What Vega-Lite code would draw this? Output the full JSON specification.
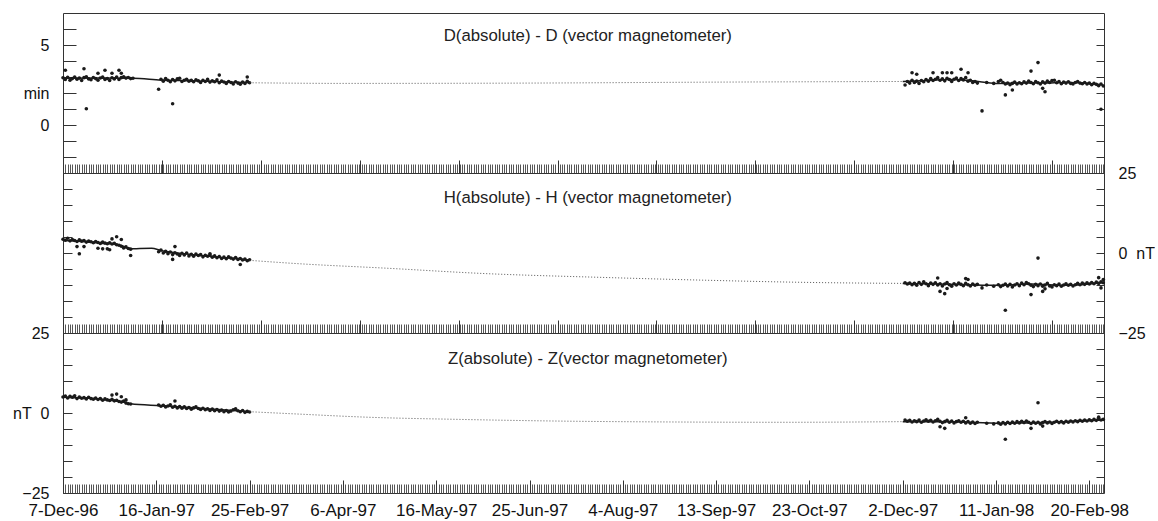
{
"$schema":"https://vega.github.io/schema/vega-lite/v6.json",
"padding":{"left":12,"top":12,"right":0,"bottom":4},
"background":"white",
"config":{"view":{"stroke":"#333","strokeWidth":1},"axis":{"labelFont":"Liberation Sans","labelFontSize":16,"labelColor":"#111","labelOverlap":false,"labelFlush":false,"labelBound":false,"domain":false,"grid":false,"tickColor":"#333","title":null}},
"datasets":{
"Dp":[{"t":"1996-12-07","v":2.95},{"t":"1996-12-08","v":2.85},{"t":"1996-12-09","v":2.98},{"t":"1996-12-10","v":2.8},{"t":"1996-12-11","v":2.9},{"t":"1996-12-12","v":3.0},{"t":"1996-12-13","v":2.86},{"t":"1996-12-14","v":2.93},{"t":"1996-12-15","v":2.78},{"t":"1996-12-16","v":2.96},{"t":"1996-12-17","v":3.02},{"t":"1996-12-18","v":2.88},{"t":"1996-12-19","v":2.83},{"t":"1996-12-20","v":2.97},{"t":"1996-12-21","v":2.9},{"t":"1996-12-22","v":2.8},{"t":"1996-12-23","v":2.94},{"t":"1996-12-24","v":2.99},{"t":"1996-12-25","v":2.85},{"t":"1996-12-26","v":2.91},{"t":"1996-12-27","v":2.78},{"t":"1996-12-28","v":2.95},{"t":"1996-12-29","v":2.88},{"t":"1996-12-30","v":3.0},{"t":"1996-12-31","v":2.84},{"t":"1997-01-01","v":2.96},{"t":"1997-01-02","v":3.02},{"t":"1997-01-03","v":2.93},{"t":"1997-01-04","v":2.97},{"t":"1997-01-05","v":2.9},{"t":"1997-01-06","v":2.92},
{"t":"1997-01-18","v":2.86},{"t":"1997-01-19","v":2.74},{"t":"1997-01-20","v":2.9},{"t":"1997-01-21","v":2.8},{"t":"1997-01-22","v":2.7},{"t":"1997-01-23","v":2.84},{"t":"1997-01-24","v":2.76},{"t":"1997-01-25","v":2.88},{"t":"1997-01-26","v":2.92},{"t":"1997-01-27","v":2.72},{"t":"1997-01-28","v":2.8},{"t":"1997-01-29","v":2.86},{"t":"1997-01-30","v":2.74},{"t":"1997-01-31","v":2.79},
{"t":"1997-02-01","v":2.7},{"t":"1997-02-02","v":2.83},{"t":"1997-02-03","v":2.76},{"t":"1997-02-04","v":2.66},{"t":"1997-02-05","v":2.8},{"t":"1997-02-06","v":2.72},{"t":"1997-02-07","v":2.85},{"t":"1997-02-08","v":2.68},{"t":"1997-02-09","v":2.76},{"t":"1997-02-10","v":2.7},{"t":"1997-02-11","v":2.82},{"t":"1997-02-12","v":2.64},{"t":"1997-02-13","v":2.74},{"t":"1997-02-14","v":2.69},{"t":"1997-02-15","v":2.6},{"t":"1997-02-16","v":2.72},{"t":"1997-02-17","v":2.66},{"t":"1997-02-18","v":2.56},{"t":"1997-02-19","v":2.7},{"t":"1997-02-20","v":2.62},{"t":"1997-02-21","v":2.55},{"t":"1997-02-22","v":2.68},{"t":"1997-02-23","v":2.6},{"t":"1997-02-24","v":2.73},{"t":"1997-02-25","v":2.64},
{"t":"1997-12-03","v":2.5},{"t":"1997-12-04","v":2.72},{"t":"1997-12-05","v":2.62},{"t":"1997-12-06","v":2.8},{"t":"1997-12-07","v":2.66},{"t":"1997-12-08","v":2.74},{"t":"1997-12-09","v":2.6},{"t":"1997-12-10","v":2.78},{"t":"1997-12-11","v":2.7},{"t":"1997-12-12","v":2.84},{"t":"1997-12-13","v":2.74},{"t":"1997-12-14","v":2.9},{"t":"1997-12-15","v":2.78},{"t":"1997-12-16","v":2.86},{"t":"1997-12-17","v":2.96},{"t":"1997-12-18","v":2.8},{"t":"1997-12-19","v":2.88},{"t":"1997-12-20","v":2.76},{"t":"1997-12-21","v":2.92},{"t":"1997-12-22","v":2.84},{"t":"1997-12-23","v":2.72},{"t":"1997-12-24","v":2.86},{"t":"1997-12-25","v":2.94},{"t":"1997-12-26","v":2.78},{"t":"1997-12-27","v":2.9},{"t":"1997-12-28","v":2.82},{"t":"1997-12-29","v":2.96},{"t":"1997-12-30","v":2.74},{"t":"1997-12-31","v":2.8},
{"t":"1998-01-01","v":2.66},{"t":"1998-01-02","v":2.72},{"t":"1998-01-03","v":2.62},{"t":"1998-01-07","v":2.66},{"t":"1998-01-10","v":2.6},
{"t":"1998-01-12","v":2.72},{"t":"1998-01-13","v":2.8},{"t":"1998-01-14","v":2.66},{"t":"1998-01-15","v":2.56},{"t":"1998-01-16","v":2.62},{"t":"1998-01-17","v":2.52},{"t":"1998-01-18","v":2.6},{"t":"1998-01-19","v":2.68},{"t":"1998-01-20","v":2.56},{"t":"1998-01-21","v":2.64},{"t":"1998-01-22","v":2.58},{"t":"1998-01-23","v":2.7},{"t":"1998-01-24","v":2.62},{"t":"1998-01-25","v":2.74},{"t":"1998-01-26","v":2.66},{"t":"1998-01-27","v":2.58},{"t":"1998-01-28","v":2.72},{"t":"1998-01-29","v":2.64},{"t":"1998-01-30","v":2.56},{"t":"1998-01-31","v":2.7},
{"t":"1998-02-01","v":2.62},{"t":"1998-02-02","v":2.74},{"t":"1998-02-03","v":2.66},{"t":"1998-02-04","v":2.78},{"t":"1998-02-05","v":2.8},{"t":"1998-02-06","v":2.64},{"t":"1998-02-07","v":2.72},{"t":"1998-02-08","v":2.58},{"t":"1998-02-09","v":2.68},{"t":"1998-02-10","v":2.62},{"t":"1998-02-11","v":2.7},{"t":"1998-02-12","v":2.6},{"t":"1998-02-13","v":2.56},{"t":"1998-02-14","v":2.66},{"t":"1998-02-15","v":2.72},{"t":"1998-02-16","v":2.62},{"t":"1998-02-17","v":2.58},{"t":"1998-02-18","v":2.66},{"t":"1998-02-19","v":2.56},{"t":"1998-02-20","v":2.62},{"t":"1998-02-21","v":2.52},{"t":"1998-02-22","v":2.6},{"t":"1998-02-23","v":2.54},{"t":"1998-02-24","v":2.46},{"t":"1998-02-25","v":2.56},{"t":"1998-02-26","v":2.44},
{"t":"1996-12-08","v":3.42},{"t":"1996-12-16","v":3.52},{"t":"1996-12-17","v":1.02},{"t":"1996-12-22","v":3.23},{"t":"1996-12-25","v":3.42},{"t":"1996-12-28","v":3.23},{"t":"1996-12-31","v":3.42},{"t":"1997-01-01","v":3.23},{"t":"1997-01-17","v":2.23},{"t":"1997-01-23","v":1.33},{"t":"1997-02-12","v":3.12},{"t":"1997-02-24","v":3.0},
{"t":"1997-12-06","v":3.27},{"t":"1997-12-08","v":3.17},{"t":"1997-12-15","v":3.27},{"t":"1997-12-19","v":3.27},{"t":"1997-12-21","v":3.27},{"t":"1997-12-23","v":3.27},{"t":"1997-12-27","v":3.48},{"t":"1997-12-30","v":3.27},{"t":"1998-01-05","v":0.88},{"t":"1998-01-15","v":1.88},{"t":"1998-01-18","v":2.19},{"t":"1998-01-26","v":3.37},{"t":"1998-01-29","v":3.9},{"t":"1998-01-31","v":2.29},{"t":"1998-02-01","v":2.08},{"t":"1998-02-25","v":0.98}],
"Ds":[{"t":"1996-12-07","v":2.92,"g":"a"},{"t":"1996-12-22","v":2.93,"g":"a"},{"t":"1997-01-06","v":2.92,"g":"a"},{"t":"1997-01-18","v":2.81,"g":"a"},{"t":"1997-01-31","v":2.76,"g":"a"},{"t":"1997-02-10","v":2.72,"g":"a"},{"t":"1997-02-25","v":2.64,"g":"a"},
{"t":"1997-12-02","v":2.72,"g":"c"},{"t":"1997-12-12","v":2.78,"g":"c"},{"t":"1997-12-22","v":2.85,"g":"c"},{"t":"1998-01-01","v":2.76,"g":"c"},{"t":"1998-01-11","v":2.6,"g":"c"},{"t":"1998-01-21","v":2.62,"g":"c"},{"t":"1998-01-31","v":2.62,"g":"c"},{"t":"1998-02-10","v":2.66,"g":"c"},{"t":"1998-02-20","v":2.6,"g":"c"},{"t":"1998-02-26","v":2.5,"g":"c"}],
"Dd":[{"t":"1997-02-25","v":2.64},{"t":"1997-04-06","v":2.6},{"t":"1997-06-25","v":2.62},{"t":"1997-09-13","v":2.68},{"t":"1997-12-02","v":2.72}],
"Hp":[{"t":"1996-12-07","v":4.3},{"t":"1996-12-08","v":4.0},{"t":"1996-12-09","v":4.6},{"t":"1996-12-10","v":3.8},{"t":"1996-12-11","v":4.2},{"t":"1996-12-12","v":3.9},{"t":"1996-12-13","v":3.6},{"t":"1996-12-14","v":4.1},{"t":"1996-12-15","v":3.7},{"t":"1996-12-16","v":3.9},{"t":"1996-12-17","v":3.4},{"t":"1996-12-18","v":3.7},{"t":"1996-12-19","v":3.5},{"t":"1996-12-20","v":3.2},{"t":"1996-12-21","v":3.6},{"t":"1996-12-22","v":3.3},{"t":"1996-12-23","v":3.0},{"t":"1996-12-24","v":3.4},{"t":"1996-12-25","v":3.1},{"t":"1996-12-26","v":2.9},{"t":"1996-12-27","v":3.2},{"t":"1996-12-28","v":2.8},{"t":"1996-12-29","v":3.0},{"t":"1996-12-30","v":2.6},{"t":"1996-12-31","v":2.4},{"t":"1997-01-01","v":2.1},{"t":"1997-01-02","v":1.6},{"t":"1997-01-03","v":1.9},{"t":"1997-01-04","v":1.4},{"t":"1997-01-05","v":1.2},
{"t":"1997-01-17","v":0.4},{"t":"1997-01-18","v":0.9},{"t":"1997-01-19","v":0.0},{"t":"1997-01-20","v":0.5},{"t":"1997-01-21","v":-0.2},{"t":"1997-01-22","v":0.3},{"t":"1997-01-23","v":-0.5},{"t":"1997-01-24","v":0.1},{"t":"1997-01-25","v":-0.3},{"t":"1997-01-26","v":-0.8},{"t":"1997-01-27","v":-0.1},{"t":"1997-01-28","v":-0.6},{"t":"1997-01-29","v":0.0},{"t":"1997-01-30","v":-0.9},{"t":"1997-01-31","v":-0.4},
{"t":"1997-02-01","v":-1.0},{"t":"1997-02-02","v":-0.3},{"t":"1997-02-03","v":-0.8},{"t":"1997-02-04","v":-0.5},{"t":"1997-02-05","v":-1.2},{"t":"1997-02-06","v":-0.7},{"t":"1997-02-07","v":-1.0},{"t":"1997-02-08","v":-0.6},{"t":"1997-02-09","v":-1.3},{"t":"1997-02-10","v":-0.9},{"t":"1997-02-11","v":-1.5},{"t":"1997-02-12","v":-1.1},{"t":"1997-02-13","v":-1.7},{"t":"1997-02-14","v":-1.3},{"t":"1997-02-15","v":-1.8},{"t":"1997-02-16","v":-1.2},{"t":"1997-02-17","v":-1.6},{"t":"1997-02-18","v":-1.9},{"t":"1997-02-19","v":-1.4},{"t":"1997-02-20","v":-2.0},{"t":"1997-02-21","v":-1.7},{"t":"1997-02-22","v":-2.2},{"t":"1997-02-23","v":-1.9},{"t":"1997-02-24","v":-2.4},{"t":"1997-02-25","v":-2.1},
{"t":"1997-12-03","v":-9.3},{"t":"1997-12-04","v":-9.7},{"t":"1997-12-05","v":-9.4},{"t":"1997-12-06","v":-9.9},{"t":"1997-12-07","v":-9.5},{"t":"1997-12-08","v":-10.1},{"t":"1997-12-09","v":-9.2},{"t":"1997-12-10","v":-9.8},{"t":"1997-12-11","v":-9.0},{"t":"1997-12-12","v":-9.6},{"t":"1997-12-13","v":-10.2},{"t":"1997-12-14","v":-9.4},{"t":"1997-12-15","v":-9.8},{"t":"1997-12-16","v":-9.3},{"t":"1997-12-17","v":-10.0},{"t":"1997-12-18","v":-9.6},{"t":"1997-12-19","v":-10.3},{"t":"1997-12-20","v":-9.7},{"t":"1997-12-21","v":-9.2},{"t":"1997-12-22","v":-9.9},{"t":"1997-12-23","v":-10.4},{"t":"1997-12-24","v":-9.6},{"t":"1997-12-25","v":-10.0},{"t":"1997-12-26","v":-9.4},{"t":"1997-12-27","v":-9.8},{"t":"1997-12-28","v":-10.2},{"t":"1997-12-29","v":-9.5},{"t":"1997-12-30","v":-9.9},{"t":"1997-12-31","v":-10.3},
{"t":"1998-01-01","v":-9.7},{"t":"1998-01-02","v":-10.1},{"t":"1998-01-03","v":-9.8},{"t":"1998-01-07","v":-10.0},{"t":"1998-01-10","v":-10.4},
{"t":"1998-01-12","v":-9.9},{"t":"1998-01-13","v":-10.5},{"t":"1998-01-14","v":-10.1},{"t":"1998-01-15","v":-9.7},{"t":"1998-01-16","v":-10.3},{"t":"1998-01-17","v":-9.8},{"t":"1998-01-18","v":-10.6},{"t":"1998-01-19","v":-10.0},{"t":"1998-01-20","v":-9.6},{"t":"1998-01-21","v":-10.2},{"t":"1998-01-22","v":-9.4},{"t":"1998-01-23","v":-9.9},{"t":"1998-01-24","v":-9.2},{"t":"1998-01-25","v":-9.6},{"t":"1998-01-26","v":-10.1},{"t":"1998-01-27","v":-10.5},{"t":"1998-01-28","v":-9.8},{"t":"1998-01-29","v":-10.2},{"t":"1998-01-30","v":-9.7},{"t":"1998-01-31","v":-10.4},
{"t":"1998-02-01","v":-10.0},{"t":"1998-02-02","v":-9.5},{"t":"1998-02-03","v":-10.3},{"t":"1998-02-04","v":-10.6},{"t":"1998-02-05","v":-9.9},{"t":"1998-02-06","v":-10.2},{"t":"1998-02-07","v":-9.7},{"t":"1998-02-08","v":-10.4},{"t":"1998-02-09","v":-10.0},{"t":"1998-02-10","v":-9.6},{"t":"1998-02-11","v":-10.1},{"t":"1998-02-12","v":-9.8},{"t":"1998-02-13","v":-10.3},{"t":"1998-02-14","v":-9.9},{"t":"1998-02-15","v":-9.5},{"t":"1998-02-16","v":-9.9},{"t":"1998-02-17","v":-9.4},{"t":"1998-02-18","v":-9.8},{"t":"1998-02-19","v":-9.3},{"t":"1998-02-20","v":-9.7},{"t":"1998-02-21","v":-9.2},{"t":"1998-02-22","v":-9.6},{"t":"1998-02-23","v":-9.1},{"t":"1998-02-24","v":-9.5},{"t":"1998-02-25","v":-9.0},{"t":"1998-02-26","v":-9.3},
{"t":"1996-12-13","v":2.0},{"t":"1996-12-14","v":-0.25},{"t":"1996-12-16","v":2.0},{"t":"1996-12-22","v":1.5},{"t":"1996-12-24","v":1.3},{"t":"1996-12-26","v":1.3},{"t":"1996-12-27","v":1.0},{"t":"1996-12-28","v":4.4},{"t":"1996-12-30","v":5.1},{"t":"1997-01-01","v":4.2},{"t":"1997-01-05","v":-0.8},{"t":"1997-01-23","v":-2.0},{"t":"1997-01-24","v":2.0},{"t":"1997-02-08","v":-0.25},{"t":"1997-02-21","v":-3.6},
{"t":"1997-12-17","v":-7.8},{"t":"1997-12-18","v":-12.0},{"t":"1997-12-20","v":-12.7},{"t":"1997-12-21","v":-11.1},{"t":"1997-12-29","v":-8.0},{"t":"1997-12-30","v":-8.3},{"t":"1998-01-05","v":-10.9},{"t":"1998-01-15","v":-17.9},{"t":"1998-01-26","v":-13.0},{"t":"1998-01-29","v":-1.6},{"t":"1998-01-31","v":-12.0},{"t":"1998-02-01","v":-11.2},{"t":"1998-02-24","v":-7.7},{"t":"1998-02-25","v":-10.9},{"t":"1998-02-26","v":-8.3}],
"Hs":[{"t":"1996-12-07","v":3.9,"g":"a"},{"t":"1996-12-15","v":3.6,"g":"a"},{"t":"1996-12-23","v":3.05,"g":"a"},{"t":"1996-12-29","v":2.8,"g":"a"},{"t":"1997-01-01","v":2.33,"g":"a"},{"t":"1997-01-05","v":1.3,"g":"a"},{"t":"1997-01-09","v":1.4,"g":"a"},{"t":"1997-01-14","v":1.45,"g":"a"},{"t":"1997-01-18","v":0.8,"g":"a"},{"t":"1997-01-26","v":-0.1,"g":"a"},{"t":"1997-02-04","v":-0.8,"g":"a"},{"t":"1997-02-15","v":-1.5,"g":"a"},{"t":"1997-02-25","v":-2.3,"g":"a"},
{"t":"1997-12-02","v":-9.5,"g":"c"},{"t":"1997-12-22","v":-9.8,"g":"c"},{"t":"1998-01-11","v":-10.1,"g":"c"},{"t":"1998-01-26","v":-9.7,"g":"c"},{"t":"1998-02-10","v":-10.1,"g":"c"},{"t":"1998-02-26","v":-9.3,"g":"c"}],
"Hd":[{"t":"1997-02-25","v":-2.3},{"t":"1997-03-17","v":-3.3},{"t":"1997-04-26","v":-4.8},{"t":"1997-06-05","v":-6.4},{"t":"1997-07-25","v":-7.6},{"t":"1997-09-08","v":-8.5},{"t":"1997-10-23","v":-9.2},{"t":"1997-12-02","v":-9.5}],
"Zp":[{"t":"1996-12-07","v":5.0},{"t":"1996-12-08","v":5.3},{"t":"1996-12-09","v":4.7},{"t":"1996-12-10","v":5.2},{"t":"1996-12-11","v":4.9},{"t":"1996-12-12","v":5.4},{"t":"1996-12-13","v":4.5},{"t":"1996-12-14","v":5.0},{"t":"1996-12-15","v":4.6},{"t":"1996-12-16","v":4.8},{"t":"1996-12-17","v":4.4},{"t":"1996-12-18","v":4.9},{"t":"1996-12-19","v":4.5},{"t":"1996-12-20","v":4.3},{"t":"1996-12-21","v":4.7},{"t":"1996-12-22","v":4.2},{"t":"1996-12-23","v":4.5},{"t":"1996-12-24","v":4.0},{"t":"1996-12-25","v":4.4},{"t":"1996-12-26","v":4.1},{"t":"1996-12-27","v":3.9},{"t":"1996-12-28","v":4.3},{"t":"1996-12-29","v":3.8},{"t":"1996-12-30","v":4.0},{"t":"1996-12-31","v":3.6},{"t":"1997-01-01","v":3.4},{"t":"1997-01-02","v":3.7},{"t":"1997-01-03","v":3.1},{"t":"1997-01-04","v":2.9},{"t":"1997-01-05","v":2.8},
{"t":"1997-01-17","v":2.5},{"t":"1997-01-18","v":2.1},{"t":"1997-01-19","v":2.4},{"t":"1997-01-20","v":1.9},{"t":"1997-01-21","v":2.2},{"t":"1997-01-22","v":2.6},{"t":"1997-01-23","v":1.8},{"t":"1997-01-24","v":2.1},{"t":"1997-01-25","v":1.6},{"t":"1997-01-26","v":2.0},{"t":"1997-01-27","v":1.5},{"t":"1997-01-28","v":1.9},{"t":"1997-01-29","v":1.4},{"t":"1997-01-30","v":1.7},{"t":"1997-01-31","v":1.2},
{"t":"1997-02-01","v":1.6},{"t":"1997-02-02","v":1.9},{"t":"1997-02-03","v":1.4},{"t":"1997-02-04","v":1.1},{"t":"1997-02-05","v":1.5},{"t":"1997-02-06","v":1.0},{"t":"1997-02-07","v":1.3},{"t":"1997-02-08","v":0.8},{"t":"1997-02-09","v":1.2},{"t":"1997-02-10","v":0.7},{"t":"1997-02-11","v":1.1},{"t":"1997-02-12","v":0.6},{"t":"1997-02-13","v":0.9},{"t":"1997-02-14","v":0.4},{"t":"1997-02-15","v":0.8},{"t":"1997-02-16","v":0.3},{"t":"1997-02-17","v":0.6},{"t":"1997-02-18","v":1.0},{"t":"1997-02-19","v":1.3},{"t":"1997-02-20","v":0.7},{"t":"1997-02-21","v":0.4},{"t":"1997-02-22","v":0.8},{"t":"1997-02-23","v":0.2},{"t":"1997-02-24","v":0.5},{"t":"1997-02-25","v":0.3},
{"t":"1997-12-03","v":-2.2},{"t":"1997-12-04","v":-2.6},{"t":"1997-12-05","v":-2.3},{"t":"1997-12-06","v":-2.8},{"t":"1997-12-07","v":-2.4},{"t":"1997-12-08","v":-2.7},{"t":"1997-12-09","v":-2.2},{"t":"1997-12-10","v":-2.9},{"t":"1997-12-11","v":-2.5},{"t":"1997-12-12","v":-2.1},{"t":"1997-12-13","v":-2.6},{"t":"1997-12-14","v":-2.3},{"t":"1997-12-15","v":-2.8},{"t":"1997-12-16","v":-2.4},{"t":"1997-12-17","v":-2.0},{"t":"1997-12-18","v":-2.6},{"t":"1997-12-19","v":-3.0},{"t":"1997-12-20","v":-2.7},{"t":"1997-12-21","v":-2.3},{"t":"1997-12-22","v":-2.9},{"t":"1997-12-23","v":-2.5},{"t":"1997-12-24","v":-3.1},{"t":"1997-12-25","v":-2.7},{"t":"1997-12-26","v":-2.4},{"t":"1997-12-27","v":-2.9},{"t":"1997-12-28","v":-2.6},{"t":"1997-12-29","v":-3.1},{"t":"1997-12-30","v":-2.7},{"t":"1997-12-31","v":-3.2},
{"t":"1998-01-01","v":-2.8},{"t":"1998-01-02","v":-3.3},{"t":"1998-01-03","v":-2.9},{"t":"1998-01-07","v":-3.2},{"t":"1998-01-10","v":-3.4},
{"t":"1998-01-12","v":-3.1},{"t":"1998-01-13","v":-3.5},{"t":"1998-01-14","v":-3.0},{"t":"1998-01-15","v":-3.4},{"t":"1998-01-16","v":-2.9},{"t":"1998-01-17","v":-3.3},{"t":"1998-01-18","v":-2.8},{"t":"1998-01-19","v":-3.2},{"t":"1998-01-20","v":-2.7},{"t":"1998-01-21","v":-3.1},{"t":"1998-01-22","v":-2.6},{"t":"1998-01-23","v":-3.0},{"t":"1998-01-24","v":-2.5},{"t":"1998-01-25","v":-2.9},{"t":"1998-01-26","v":-3.3},{"t":"1998-01-27","v":-2.8},{"t":"1998-01-28","v":-3.2},{"t":"1998-01-29","v":-2.9},{"t":"1998-01-30","v":-3.4},{"t":"1998-01-31","v":-3.0},
{"t":"1998-02-01","v":-2.7},{"t":"1998-02-02","v":-3.1},{"t":"1998-02-03","v":-2.8},{"t":"1998-02-04","v":-3.3},{"t":"1998-02-05","v":-2.9},{"t":"1998-02-06","v":-2.6},{"t":"1998-02-07","v":-3.0},{"t":"1998-02-08","v":-2.7},{"t":"1998-02-09","v":-3.1},{"t":"1998-02-10","v":-2.6},{"t":"1998-02-11","v":-2.9},{"t":"1998-02-12","v":-2.5},{"t":"1998-02-13","v":-2.8},{"t":"1998-02-14","v":-2.4},{"t":"1998-02-15","v":-2.7},{"t":"1998-02-16","v":-2.3},{"t":"1998-02-17","v":-2.6},{"t":"1998-02-18","v":-2.2},{"t":"1998-02-19","v":-2.5},{"t":"1998-02-20","v":-2.1},{"t":"1998-02-21","v":-2.4},{"t":"1998-02-22","v":-2.0},{"t":"1998-02-23","v":-2.3},{"t":"1998-02-24","v":-1.9},{"t":"1998-02-25","v":-2.2},{"t":"1998-02-26","v":-2.0},
{"t":"1996-12-28","v":5.6},{"t":"1996-12-30","v":5.9},{"t":"1997-01-01","v":5.1},{"t":"1997-01-03","v":4.1},{"t":"1997-01-24","v":3.75},
{"t":"1997-12-18","v":-4.3},{"t":"1997-12-20","v":-4.8},{"t":"1997-12-29","v":-1.5},{"t":"1998-01-15","v":-8.2},{"t":"1998-01-26","v":-4.8},{"t":"1998-01-29","v":3.2},{"t":"1998-01-31","v":-4.1},{"t":"1998-02-24","v":-1.3}],
"Zs":[{"t":"1996-12-07","v":4.9,"g":"a"},{"t":"1996-12-23","v":4.3,"g":"a"},{"t":"1997-01-01","v":3.5,"g":"a"},{"t":"1997-01-05","v":2.9,"g":"a"},{"t":"1997-01-18","v":2.3,"g":"a"},{"t":"1997-02-04","v":1.5,"g":"a"},{"t":"1997-02-25","v":0.4,"g":"a"},
{"t":"1997-12-02","v":-2.7,"g":"c"},{"t":"1997-12-22","v":-2.7,"g":"c"},{"t":"1998-01-13","v":-3.2,"g":"c"},{"t":"1998-01-29","v":-3.0,"g":"c"},{"t":"1998-02-26","v":-2.2,"g":"c"}],
"Zd":[{"t":"1997-02-25","v":0.4},{"t":"1997-03-17","v":-0.3},{"t":"1997-04-16","v":-1.3},{"t":"1997-05-26","v":-2.0},{"t":"1997-07-05","v":-2.5},{"t":"1997-08-24","v":-2.8},{"t":"1997-10-13","v":-2.9},{"t":"1997-12-02","v":-2.7}]
},
"vconcat":[
{"width":1041,"height":160,
"layer":[
{"data":{"name":"Dp"},"mark":{"type":"circle","size":13,"color":"#1a1a1a","opacity":1},
"encoding":{"x":{"field":"t","type":"temporal","scale":{"type":"utc","domain":[{"year":1996,"month":12,"date":7,"utc":true},{"year":1998,"month":2,"date":26,"hours":7,"utc":true}]},"axis":{"orient":"bottom","tickCount":{"interval":"day","step":1},"labels":false,"tickSize":-9,"tickWidth":0.9,"tickColor":"#444","title":null}},
"y":{"field":"v","type":"quantitative","scale":{"domain":[-3,7],"nice":false,"zero":false},"axis":{"orient":"left","values":[-2,-1,0,1,2,3,4,5,6],"tickSize":-13,"labelPadding":27,"labelExpr":"datum.value==2?'min\u00a0':(datum.value==0||datum.value==5)?datum.label:''","title":null}}}},
{"data":{"name":"Dd"},"mark":{"type":"line","interpolate":"monotone","strokeDash":[1,2],"strokeWidth":1,"color":"#555"},
"encoding":{"x":{"field":"t","type":"temporal","axis":null},"y":{"field":"v","type":"quantitative","axis":null}}},
{"data":{"name":"Ds"},"mark":{"type":"line","interpolate":"monotone","strokeWidth":1.5,"color":"#1a1a1a"},
"encoding":{"x":{"field":"t","type":"temporal","axis":{"orient":"bottom","values":[{"year":1996,"month":12,"date":7,"utc":true},{"year":1997,"month":1,"date":18,"hours":10,"utc":true},{"year":1997,"month":3,"date":1,"hours":19,"utc":true},{"year":1997,"month":4,"date":13,"hours":5,"utc":true},{"year":1997,"month":5,"date":25,"hours":14,"utc":true},{"year":1997,"month":7,"date":7,"utc":true},{"year":1997,"month":8,"date":18,"hours":10,"utc":true},{"year":1997,"month":9,"date":29,"hours":19,"utc":true},{"year":1997,"month":11,"date":11,"hours":5,"utc":true},{"year":1997,"month":12,"date":23,"hours":14,"utc":true},{"year":1998,"month":2,"date":4,"utc":true}],"labels":false,"tickSize":-13,"title":null}},
"y":{"field":"v","type":"quantitative","axis":{"orient":"right","values":[-2,-1,0,1,2,3,4,5,6],"tickSize":-8,"labels":false,"title":null}},
"detail":{"field":"g"}}},
{"data":{"values":[{}]},"mark":{"type":"text","font":"Liberation Sans","fontSize":16.8,"color":"#222"},
"encoding":{"x":{"datum":{"year":1997,"month":7,"date":20,"utc":true},"type":"temporal","axis":null},"y":{"datum":5.56,"type":"quantitative","axis":null},"text":{"value":"D(absolute) - D (vector magnetometer)"}}}
],
"resolve":{"axis":{"x":"independent","y":"independent"}}},
{"width":1041,"height":160,
"layer":[
{"data":{"name":"Hp"},"mark":{"type":"circle","size":13,"color":"#1a1a1a","opacity":1},
"encoding":{"x":{"field":"t","type":"temporal","scale":{"type":"utc","domain":[{"year":1996,"month":12,"date":7,"utc":true},{"year":1998,"month":2,"date":26,"hours":7,"utc":true}]},"axis":{"orient":"bottom","tickCount":{"interval":"day","step":1},"labels":false,"tickSize":-9,"tickWidth":0.9,"tickColor":"#444","title":null}},
"y":{"field":"v","type":"quantitative","scale":{"domain":[-25,25],"nice":false,"zero":false},"axis":{"orient":"left","values":[-20,-15,-10,-5,0,5,10,15,20],"tickSize":-9,"labels":false,"title":null}}}},
{"data":{"name":"Hd"},"mark":{"type":"line","interpolate":"monotone","strokeDash":[1,2],"strokeWidth":1,"color":"#555"},
"encoding":{"x":{"field":"t","type":"temporal","axis":null},"y":{"field":"v","type":"quantitative","axis":null}}},
{"data":{"name":"Hs"},"mark":{"type":"line","interpolate":"monotone","strokeWidth":1.5,"color":"#1a1a1a"},
"encoding":{"x":{"field":"t","type":"temporal","axis":{"orient":"bottom","values":[{"year":1996,"month":12,"date":7,"utc":true},{"year":1997,"month":1,"date":18,"hours":10,"utc":true},{"year":1997,"month":3,"date":1,"hours":19,"utc":true},{"year":1997,"month":4,"date":13,"hours":5,"utc":true},{"year":1997,"month":5,"date":25,"hours":14,"utc":true},{"year":1997,"month":7,"date":7,"utc":true},{"year":1997,"month":8,"date":18,"hours":10,"utc":true},{"year":1997,"month":9,"date":29,"hours":19,"utc":true},{"year":1997,"month":11,"date":11,"hours":5,"utc":true},{"year":1997,"month":12,"date":23,"hours":14,"utc":true},{"year":1998,"month":2,"date":4,"utc":true}],"labels":false,"tickSize":-13,"title":null}},
"y":{"field":"v","type":"quantitative","axis":{"orient":"right","values":[-25,-20,-15,-10,-5,0,5,10,15,20,25],"tickSize":-8,"labelPadding":22,"labelExpr":"datum.value==0?'0\u00a0\u00a0nT':(datum.value==25||datum.value==-25)?datum.label:''","title":null}},
"detail":{"field":"g"}}},
{"data":{"values":[{}]},"mark":{"type":"text","font":"Liberation Sans","fontSize":16.8,"color":"#222"},
"encoding":{"x":{"datum":{"year":1997,"month":7,"date":20,"utc":true},"type":"temporal","axis":null},"y":{"datum":17.2,"type":"quantitative","axis":null},"text":{"value":"H(absolute) - H (vector magnetometer)"}}}
],
"resolve":{"axis":{"x":"independent","y":"independent"}}},
{"width":1041,"height":160,
"layer":[
{"data":{"name":"Zp"},"mark":{"type":"circle","size":13,"color":"#1a1a1a","opacity":1},
"encoding":{"x":{"field":"t","type":"temporal","scale":{"type":"utc","domain":[{"year":1996,"month":12,"date":7,"utc":true},{"year":1998,"month":2,"date":26,"hours":7,"utc":true}]},"axis":{"orient":"bottom","tickCount":{"interval":"day","step":1},"labels":false,"tickSize":-9,"tickWidth":0.9,"tickColor":"#444","title":null}},
"y":{"field":"v","type":"quantitative","scale":{"domain":[-25,25],"nice":false,"zero":false},"axis":{"orient":"left","values":[-25,-20,-15,-10,-5,0,5,10,15,20,25],"tickSize":-9,"labelPadding":23,"labelExpr":"datum.value==0?'nT\u00a0\u00a00':(datum.value==25||datum.value==-25)?datum.label:''","title":null}}}},
{"data":{"name":"Zd"},"mark":{"type":"line","interpolate":"monotone","strokeDash":[1,2],"strokeWidth":1,"color":"#555"},
"encoding":{"x":{"field":"t","type":"temporal","axis":null},"y":{"field":"v","type":"quantitative","axis":null}}},
{"data":{"name":"Zs"},"mark":{"type":"line","interpolate":"monotone","strokeWidth":1.5,"color":"#1a1a1a"},
"encoding":{"x":{"field":"t","type":"temporal","axis":{"orient":"bottom","values":[{"year":1996,"month":12,"date":7,"utc":true},{"year":1997,"month":1,"date":16,"utc":true},{"year":1997,"month":2,"date":25,"utc":true},{"year":1997,"month":4,"date":6,"utc":true},{"year":1997,"month":5,"date":16,"utc":true},{"year":1997,"month":6,"date":25,"utc":true},{"year":1997,"month":8,"date":4,"utc":true},{"year":1997,"month":9,"date":13,"utc":true},{"year":1997,"month":10,"date":23,"utc":true},{"year":1997,"month":12,"date":2,"utc":true},{"year":1998,"month":1,"date":11,"utc":true},{"year":1998,"month":2,"date":20,"utc":true}],"labelExpr":"utcFormat(datum.value,'%-d-%b-%y')","labelFontSize":17,"labelPadding":22,"tickSize":-13,"title":null}},
"y":{"field":"v","type":"quantitative","axis":{"orient":"right","values":[-20,-15,-10,-5,0,5,10,15,20],"tickSize":-8,"labels":false,"title":null}},
"detail":{"field":"g"}}},
{"data":{"values":[{}]},"mark":{"type":"text","font":"Liberation Sans","fontSize":16.8,"color":"#222"},
"encoding":{"x":{"datum":{"year":1997,"month":7,"date":20,"utc":true},"type":"temporal","axis":null},"y":{"datum":17.0,"type":"quantitative","axis":null},"text":{"value":"Z(absolute) - Z(vector magnetometer)"}}}
],
"resolve":{"axis":{"x":"independent","y":"independent"}}}
],
"spacing":0,
"bounds":"flush",
"resolve":{"scale":{"x":"independent","y":"independent"}}
}
